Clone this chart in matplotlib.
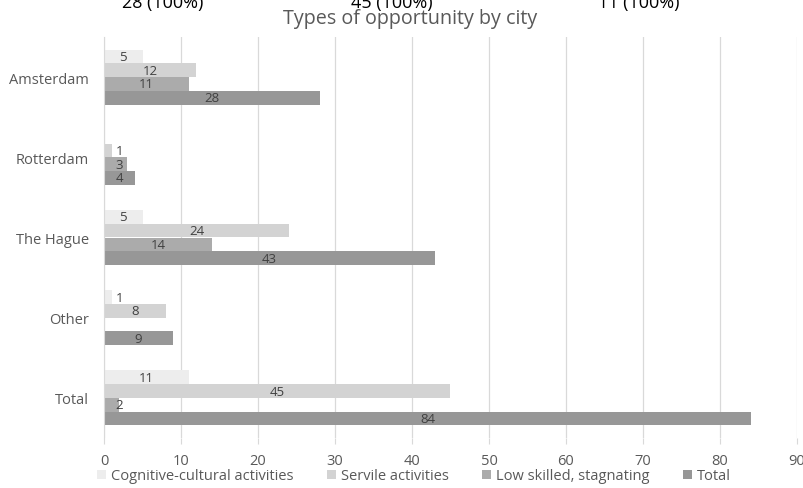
import matplotlib
matplotlib.use("Agg")
import numpy as np
import matplotlib.pyplot as plt

cities = ["Amsterdam", "Rotterdam", "The Hague", "Other", "Total"]
series = ["Cognitive-cultural activities", "Servile activities",
          "Low skilled, stagnating", "Total"]
cognitive = [5, 0, 5, 1, 11]
servile = [12, 1, 24, 8, 45]
low_skilled = [11, 3, 14, 0, 2]
total = [28, 4, 43, 9, 84]
top_notes = ["28 (100%)", "45 (100%)", "11 (100%)"]
xticks = list(range(0, 100, 10))

colors = ["#ededed", "#d3d3d3", "#ababab", "#979797"]
values = [cognitive, servile, low_skilled, total]

plt.rcParams["font.family"] = ["Open Sans", "DejaVu Sans"]

fig = plt.figure(figsize=(8.04, 4.89), dpi=100)
ax = fig.add_axes([104 / 804, 1 - 439 / 489, 693 / 804, 401 / 489])

y = np.arange(len(cities))
h = 0.171
for i, (vals, col, name) in enumerate(zip(values, colors, series)):
    ypos = y + (i - 1.5) * h
    ax.barh(ypos, vals, height=h, color=col, label=name, zorder=2)
    for yy, v in zip(ypos, vals):
        if v == 0:
            continue
        ax.text(max(v / 2, 2), yy, str(v), ha="center", va="center",
                fontsize=9.5, color="#404040", zorder=3)

ax.set_xlim(0, 90)
ax.set_ylim(4.5, -0.5)
ax.set_yticks(y)
ax.set_yticklabels(cities, fontsize=10.5, color="#595959")
ax.set_xticks(xticks)
ax.set_xticklabels([str(t) for t in xticks], fontsize=10.5, color="#595959")
ax.tick_params(axis="y", length=0, pad=11)
ax.tick_params(axis="x", length=4, width=0.8, color="#d9d9d9", pad=7)
ax.grid(axis="x", color="#d9d9d9", linewidth=0.9, zorder=0)
for s in ["top", "right", "bottom"]:
    ax.spines[s].set_visible(False)
ax.spines["left"].set_color("#d9d9d9")

fig.text(410 / 804, 1 - 19 / 489, "Types of opportunity by city", ha="center",
         va="center", fontsize=14.2, color="#595959")
for xc, note in zip([163, 392, 639], top_notes):
    fig.text(xc / 804, 1 - 8 / 489, note, ha="center", va="baseline",
             fontsize=13, color="black")

fig.legend(loc="center", bbox_to_anchor=(414 / 804, 1 - 477 / 489), ncol=4,
           frameon=False, fontsize=10.5, handlelength=0.6, handleheight=0.6,
           handletextpad=0.35, columnspacing=2.3, labelcolor="#595959")

fig.savefig("out.png", dpi=100)
